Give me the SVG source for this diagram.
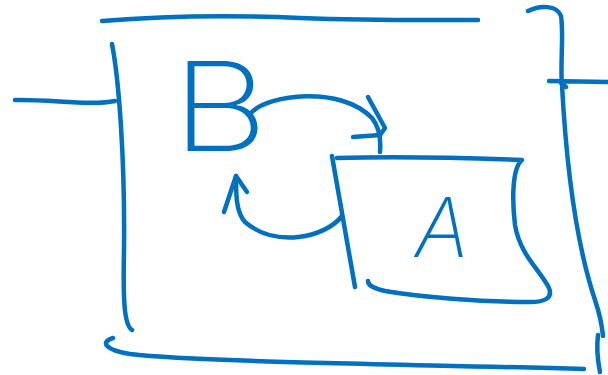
<svg xmlns="http://www.w3.org/2000/svg" width="608" height="375" viewBox="0 0 608 375">
<style>
.ink{fill:none;stroke:#0070c0;stroke-width:4.5;stroke-linecap:round;stroke-linejoin:round}
.lbl{fill:#0070c0;font-family:Inter,Roboto,"DejaVu Sans",sans-serif;font-weight:200;text-anchor:middle}
</style>
<rect width="608" height="375" fill="#ffffff"/>
<g id="frame">
<path class="ink" d="M102 21 C150 17 210 14 300 18 C380 21 440 20 478 20"/>
<path class="ink" d="M112 44 C119 80 125 160 124 250 C123 300 124 325 132 330"/>
<path class="ink" d="M15 100 C50 99 90 106 115 101"/>
<path class="ink" d="M113 338 C100 342 105 350 130 354 C200 362 400 364 584 369"/>
<path class="ink" d="M528 11 C540 5 557 5 561 16 C564 35 560 65 562 85 C566 160 575 240 595 300 C600 315 602 325 603 336"/>
<path class="ink" d="M549 81 L608 82 M560 82 L566 87"/>
<path class="ink" d="M598 335 C596 350 598 362 600 372"/>
</g>
<g id="node-B">
<text class="lbl" x="0" y="151" font-size="124" transform="translate(220,0) scale(1.2,1)">B</text>
</g>
<g id="node-A">
<path class="ink" d="M332 156 L355 287"/>
<path class="ink" d="M337 158 C400 156 470 158 522 160 C512 168 512 200 515 225 C520 255 540 270 549 288 C553 298 545 302 530 302 C480 302 420 297 385 291 C372 288 368 285 368 281"/>
<text class="lbl" x="442" y="257" font-size="82" font-style="italic">A</text>
</g>
<g id="connectors">
<path class="ink" d="M252 112 C268 95 340 85 372 118 C380 128 381 140 380 152"/>
<path class="ink" d="M368 97 L385 128 L380 135 M353 137 L380 135"/>
<path class="ink" d="M342 216 C325 238 275 248 245 222 C236 212 236 195 236 176"/>
<path class="ink" d="M224 212 L236 176 L247 192"/>
</g>
</svg>
